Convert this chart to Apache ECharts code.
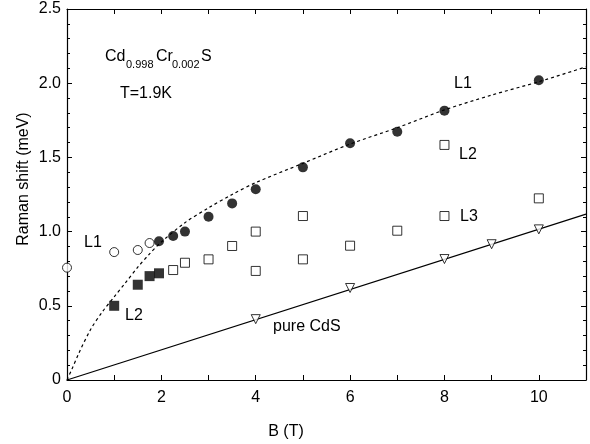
<!DOCTYPE html>
<html>
<head>
<meta charset="utf-8">
<script src="https://cdn.jsdelivr.net/npm/echarts@6/dist/echarts.min.js"></script>
<style>html,body{margin:0;padding:0;background:#fff;}#c{width:590px;height:444px;}</style>
</head>
<body>
<div id="c"></div>
<script>
// ---- data ----
var L1_filled = [[1.95,0.935],[2.25,0.97],[2.5,1.0],[3,1.1],[3.5,1.19],[4,1.285],[5,1.433],[6,1.595],[7,1.673],[8,1.815],[10,2.02]];
var L1_open = [[0,0.757],[1,0.862],[1.5,0.876],[1.75,0.923]];
var L2_filled = [[1,0.5],[1.5,0.642],[1.75,0.70],[1.95,0.719]];
var L23_open = [[2.25,0.741],[2.5,0.79],[3,0.813],[3.5,0.903],[4,1.0],[4,0.735],[5,1.105],[5,0.813],[6,0.905],[7,1.006],[8,1.584],[8,1.105],[10,1.224]];
var pureCdS = [[4,0.41],[6,0.62],[8,0.815],[9,0.915],[10,1.015]];
var pureLineX = [0, 11];
var pureLineY = [0, 1.118];
var curveX = [0,0.1,0.25,0.5,0.75,1,1.25,1.5,1.75,2,2.5,3,3.5,4,5,6,7,8,9,10,11];
var curveY = [0,0.07,0.18,0.34,0.46,0.56,0.66,0.76,0.85,0.93,1.06,1.16,1.25,1.33,1.46,1.59,1.7,1.82,1.92,2.01,2.11];
var xTicks = [0,2,4,6,8,10];
var yTicks = [0,0.5,1.0,1.5,2.0,2.5];

function zip(a,b){ return a.map(function(v,i){return [v,b[i]];}); }

var FONT = '"Liberation Sans", Arial, Helvetica, sans-serif';
var chart = echarts.init(document.getElementById('c'));
function common(){
  return {
    axisLine:{show:true, onZero:false, lineStyle:{color:'#000', width:1.2}},
    axisTick:{show:true, inside:true, length:5, lineStyle:{color:'#000', width:1}},
    splitLine:{show:false}
  };
}
chart.setOption({
  animation:false,
  backgroundColor:'#fff',
  grid:{left:67, right:4, top:9, bottom:64, containLabel:false},
  xAxis:[
    Object.assign({type:'value', position:'bottom', min:0, max:11, interval:1,
      axisLabel:{show:true, margin:10, color:'#000', fontSize:16, fontFamily:FONT, showMaxLabel:false,
        formatter:function(v){ return xTicks.indexOf(v)>=0 ? String(v) : ''; }}}, common()),
    Object.assign({type:'value', position:'top', min:0, max:11, interval:1,
      axisLabel:{show:false}}, common())
  ],
  yAxis:[
    Object.assign({type:'value', position:'left', min:0, max:2.5, interval:0.5,
      minorTick:{show:true, splitNumber:5, length:3, lineStyle:{color:'#000'}},
      axisLabel:{show:true, margin:6, color:'#000', fontSize:16, fontFamily:FONT,
        formatter:function(v){ return v===0 ? '0' : v.toFixed(1); }}}, common()),
    Object.assign({type:'value', position:'right', min:0, max:2.5, interval:0.5,
      minorTick:{show:true, splitNumber:5, length:3, lineStyle:{color:'#000'}},
      axisLabel:{show:false}}, common())
  ],
  series:[
    {type:'line', data:zip(curveX,curveY), smooth:0.3, showSymbol:false, symbol:'none',
      lineStyle:{color:'#000', width:1.2, type:[3,3]}, z:2},
    {type:'line', data:zip(pureLineX,pureLineY), showSymbol:false, symbol:'none',
      lineStyle:{color:'#000', width:1.2}, z:2},
    {type:'scatter', data:L1_filled, symbol:'circle', symbolSize:10,
      itemStyle:{color:'#000'}, z:3},
    {type:'scatter', data:L1_open, symbol:'circle', symbolSize:9,
      itemStyle:{color:'#fff', borderColor:'#000', borderWidth:1}, z:3},
    {type:'scatter', data:L2_filled, symbol:'rect', symbolSize:10,
      itemStyle:{color:'#000'}, z:3},
    {type:'scatter', data:L23_open, symbol:'rect', symbolSize:9,
      itemStyle:{color:'#fff', borderColor:'#000', borderWidth:1}, z:3},
    {type:'scatter', data:pureCdS, symbol:'triangle', symbolRotate:180, symbolSize:9,
      itemStyle:{color:'#fff', borderColor:'#000', borderWidth:1}, z:3}
  ],
  graphic:[
    {type:'text', x:24, y:179, rotation:Math.PI/2,
      style:{text:'Raman shift (meV)', fill:'#000', font:'16px '+FONT, align:'center', verticalAlign:'middle'}},
    {type:'text', x:286, y:432,
      style:{text:'B (T)', fill:'#000', font:'16px '+FONT, align:'center', verticalAlign:'middle'}},
    {type:'text', x:105, y:57,
      style:{text:'Cd', fill:'#000', font:'16px '+FONT, align:'left', verticalAlign:'middle'}},
    {type:'text', x:126, y:65,
      style:{text:'0.998', fill:'#000', font:'11px '+FONT, align:'left', verticalAlign:'middle'}},
    {type:'text', x:156, y:57,
      style:{text:'Cr', fill:'#000', font:'16px '+FONT, align:'left', verticalAlign:'middle'}},
    {type:'text', x:172, y:65,
      style:{text:'0.002', fill:'#000', font:'11px '+FONT, align:'left', verticalAlign:'middle'}},
    {type:'text', x:201, y:57,
      style:{text:'S', fill:'#000', font:'16px '+FONT, align:'left', verticalAlign:'middle'}},
    {type:'text', x:120, y:94,
      style:{text:'T=1.9K', fill:'#000', font:'16px '+FONT, align:'left', verticalAlign:'middle'}},
    {type:'text', x:454, y:84,
      style:{text:'L1', fill:'#000', font:'16px '+FONT, align:'left', verticalAlign:'middle'}},
    {type:'text', x:459, y:155,
      style:{text:'L2', fill:'#000', font:'16px '+FONT, align:'left', verticalAlign:'middle'}},
    {type:'text', x:460, y:217,
      style:{text:'L3', fill:'#000', font:'16px '+FONT, align:'left', verticalAlign:'middle'}},
    {type:'text', x:84, y:243,
      style:{text:'L1', fill:'#000', font:'16px '+FONT, align:'left', verticalAlign:'middle'}},
    {type:'text', x:125, y:316,
      style:{text:'L2', fill:'#000', font:'16px '+FONT, align:'left', verticalAlign:'middle'}},
    {type:'text', x:273, y:327,
      style:{text:'pure CdS', fill:'#000', font:'16px '+FONT, align:'left', verticalAlign:'middle'}}
  ]
});
</script>
</body>
</html>
